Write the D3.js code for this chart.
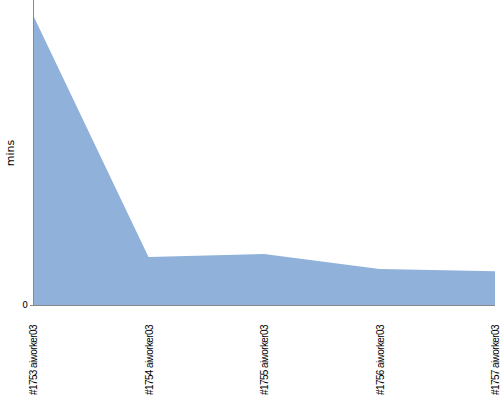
<!DOCTYPE html>
<html><head><meta charset="utf-8">
<script src="https://cdn.jsdelivr.net/npm/d3@7"></script>
<style>body{margin:0;background:#fff}svg{display:block}</style>
</head><body>
<svg id="c" width="500" height="400"></svg>
<script>
const categories = ["#1753 aiworker03","#1754 aiworker03","#1755 aiworker03","#1756 aiworker03","#1757 aiworker03"];
const values = [95.1, 15.7, 16.7, 11.8, 11.1];
const yTicks = [0];

(function(){
const svg = d3.select("#c");
const mLeft = 33, mRight = 495, mTop = 0, mBottom = 305;
const x = d3.scalePoint().domain(categories).range([mLeft, mRight]);
const y = d3.scaleLinear().domain([0, 100]).range([mBottom, mTop]);

const data = categories.map((c, i) => ({c, v: values[i]}));
svg.append("path").datum(data)
  .attr("fill", "#8fb1da")
  .attr("d", d3.area().x(d => x(d.c)).y0(y(0)).y1(d => y(d.v)));

svg.append("line").attr("x1", mLeft + 0.5).attr("x2", mLeft + 0.5).attr("y1", 0).attr("y2", mBottom)
  .attr("stroke", "#888").attr("stroke-width", 1);
svg.append("line").attr("x1", mLeft).attr("x2", mRight).attr("y1", mBottom + 0.5).attr("y2", mBottom + 0.5)
  .attr("stroke", "#888").attr("stroke-width", 1);
yTicks.forEach(t => {
  svg.append("line").attr("x1", mLeft - 3).attr("x2", mLeft).attr("y1", y(t) + 0.5).attr("y2", y(t) + 0.5)
    .attr("stroke", "#888");
  svg.append("text").attr("x", mLeft - 5).attr("y", y(t) + 3).attr("text-anchor", "end")
    .attr("font-family", "DejaVu Sans, sans-serif").attr("font-size", 9).attr("fill", "#000").text(t);
});
svg.append("text").attr("transform", "translate(14,153) rotate(-90)").attr("text-anchor", "middle")
  .attr("font-family", "DejaVu Sans, sans-serif").attr("font-size", 11).attr("fill", "#000").text("mins");
categories.forEach(c => {
  svg.append("text").attr("transform", `translate(${x(c) + 4},395) rotate(-90)`)
    .attr("text-anchor", "start")
    .attr("font-family", "Liberation Sans Narrow, Liberation Sans, sans-serif")
    .attr("font-size", 10).attr("letter-spacing", -0.6).attr("fill", "#000").text(c);
});
})();
</script>
</body></html>
